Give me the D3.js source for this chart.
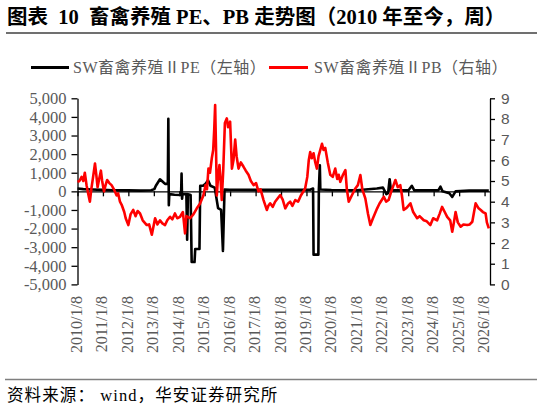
<!DOCTYPE html>
<html><head><meta charset="utf-8">
<script src="https://cdn.jsdelivr.net/npm/d3@7/dist/d3.min.js"></script>
<style>
body{margin:0;background:#fff;}
svg{display:block;}
text{white-space:pre;}
</style></head>
<body><svg id="c" width="541" height="406"></svg>
<script>
const titleText = "图表  10  畜禽养殖 PE、PB 走势图（2010 年至今，周）";
const sourceText = "资料来源： wind，华安证券研究所";
const seriesNames = ["SW畜禽养殖ⅡPE（左轴）", "SW畜禽养殖ⅡPB（右轴）"];
const leftTicks = [-5000,-4000,-3000,-2000,-1000,0,1000,2000,3000,4000,5000];
const rightTicks = [0,1,2,3,4,5,6,7,8,9];
const xTickLabels = ["2010/1/8","2011/1/8","2012/1/8","2013/1/8","2014/1/8","2015/1/8","2016/1/8","2017/1/8","2018/1/8","2019/1/8","2020/1/8","2021/1/8","2022/1/8","2023/1/8","2024/1/8","2025/1/8","2026/1/8"];

const peSeries = [
["2010-01-08",150],["2010-04-01",120],["2010-08-01",100],["2011-01-01",80],["2011-06-01",60],["2012-01-01",50],["2012-07-01",40],["2012-12-01",60],
["2013-01-15",120],["2013-02-06",300],["2013-04-06",650],["2013-05-20",500],["2013-06-18",400],["2013-07-28",400],["2013-08-04",3900],["2013-08-11",-750],["2013-08-18",-150],
["2013-11-01",-180],["2014-02-03",-200],["2014-02-10",950],["2014-02-17",-400],["2014-02-24",-150],["2014-04-20",-150],["2014-05-01",-2600],["2014-05-12",-150],
["2014-06-20",-200],["2014-07-05",-3800],["2014-08-15",-3800],["2014-08-25",-3100],["2014-10-25",-3100],["2014-11-05",300],["2014-12-15",300],["2015-01-20",400],
["2015-02-25",600],["2015-04-01",300],["2015-06-01",200],["2015-07-19",-900],["2015-09-01",-1000],["2015-09-27",-3200],["2015-10-20",100],["2016-01-01",90],
["2017-01-01",80],["2018-01-01",80],["2019-03-01",90],["2019-04-13",150],["2019-04-20",-3400],["2019-06-28",-3400],["2019-07-05",100],["2019-07-19",1400],["2019-07-26",100],
["2020-01-01",70],["2021-01-01",60],["2021-10-15",150],["2022-01-10",200],["2022-02-28",-150],["2022-03-25",-100],["2022-04-16",650],["2022-05-05",50],
["2023-01-10",50],["2023-03-01",300],["2023-04-05",50],["2024-03-15",50],["2024-04-15",250],["2024-05-15",0],["2024-08-20",-100],["2024-10-01",-300],["2024-11-18",0],
["2025-06-01",40],["2026-03-10",40]
];

const pbSeries = [
["2010-01-08",4.96],["2010-02-05",5.0],["2010-03-08",5.2],["2010-04-01",5.0],["2010-04-23",5.4],["2010-05-18",4.8],["2010-06-10",4.4],["2010-07-05",4.0],
["2010-07-25",4.6],["2010-08-20",5.2],["2010-09-16",5.85],["2010-10-05",5.3],["2010-10-23",4.7],["2010-11-15",5.1],["2010-12-10",5.5],["2010-12-28",5.0],
["2011-01-23",4.5],["2011-02-15",4.8],["2011-03-10",5.05],["2011-04-10",4.9],["2011-05-12",4.8],["2011-06-15",4.6],["2011-07-24",4.3],["2011-08-15",4.4],
["2011-09-10",4.0],["2011-10-04",3.85],["2011-11-10",3.5],["2011-12-01",3.2],["2012-01-08",2.87],["2012-02-10",3.4],["2012-03-18",3.6],["2012-04-20",3.3],
["2012-05-20",3.55],["2012-06-24",3.43],["2012-08-01",3.1],["2012-09-28",2.87],["2012-11-01",2.9],["2012-12-10",2.4],["2013-01-26",3.2],["2013-03-01",2.9],
["2013-04-06",3.1],["2013-05-10",2.95],["2013-06-18",2.87],["2013-07-20",3.1],["2013-08-29",3.27],["2013-10-01",3.15],["2013-11-07",3.43],["2013-12-10",3.2],
["2014-01-19",3.27],["2014-03-01",3.5],["2014-04-01",2.47],["2014-04-20",3.3],["2014-06-13",3.2],["2014-08-01",3.4],["2014-09-17",3.68],["2014-11-01",3.9],
["2014-12-20",4.3],["2015-01-20",4.8],["2015-02-10",4.6],["2015-03-03",5.6],["2015-03-25",5.4],["2015-04-20",6.1],["2015-05-10",6.5],["2015-05-25",7.5],
["2015-06-07",8.67],["2015-06-20",6.5],["2015-07-01",4.3],["2015-07-15",5.0],["2015-08-08",5.77],["2015-08-25",5.0],["2015-09-10",4.08],["2015-10-01",5.5],
["2015-10-25",7.8],["2015-11-22",8.03],["2015-12-10",7.6],["2016-01-08",7.87],["2016-02-03",5.6],["2016-02-25",6.0],["2016-03-21",7.0],["2016-04-10",6.2],
["2016-05-08",5.6],["2016-06-10",5.9],["2016-07-17",5.7],["2016-08-20",5.5],["2016-09-28",5.3],["2016-11-01",5.0],["2016-12-10",4.8],["2017-01-15",4.9],
["2017-02-18",4.5],["2017-03-20",4.6],["2017-05-02",4.08],["2017-06-18",3.6],["2017-07-10",3.8],["2017-08-05",3.92],["2017-09-10",3.75],["2017-10-15",4.0],
["2017-12-28",4.32],["2018-02-01",4.1],["2018-03-10",3.68],["2018-04-15",3.9],["2018-05-19",4.0],["2018-06-20",3.8],["2018-07-31",4.08],["2018-09-10",4.0],
["2018-10-20",4.3],["2018-12-20",4.64],["2019-01-20",5.2],["2019-02-10",6.0],["2019-03-03",6.4],["2019-03-25",6.1],["2019-04-20",6.34],["2019-05-15",5.9],
["2019-06-07",5.6],["2019-07-01",6.2],["2019-08-19",6.8],["2019-09-10",6.5],["2019-10-05",6.6],["2019-11-10",5.9],["2019-12-16",5.3],["2020-01-20",5.2],
["2020-02-25",5.6],["2020-03-25",5.1],["2020-04-15",5.3],["2020-05-08",4.96],["2020-06-15",5.3],["2020-07-20",5.53],["2020-08-10",4.6],["2020-09-06",4.0],
["2020-10-20",4.3],["2020-12-10",4.64],["2021-01-15",4.8],["2021-02-20",5.29],["2021-03-20",4.6],["2021-05-02",4.16],["2021-06-10",3.4],["2021-07-13",2.87],
["2021-08-20",3.2],["2021-10-19",3.68],["2021-11-20",3.9],["2022-01-23",4.24],["2022-02-25",4.0],["2022-04-01",4.08],["2022-05-10",4.5],["2022-07-08",5.05],
["2022-08-10",4.7],["2022-09-16",4.8],["2022-10-10",4.3],["2022-11-03",3.6],["2022-12-15",3.7],["2023-02-09",3.92],["2023-03-20",3.5],["2023-05-16",3.2],
["2023-06-20",3.3],["2023-08-19",3.1],["2023-10-01",3.05],["2023-11-22",2.87],["2024-01-01",3.2],["2024-02-27",3.1],["2024-04-01",3.4],["2024-05-08",3.75],
["2024-06-15",3.5],["2024-07-20",3.27],["2024-09-01",3.1],["2024-10-01",2.55],["2024-10-25",3.0],["2024-11-18",3.5],["2024-12-20",3.0],["2025-01-30",2.79],
["2025-03-10",2.9],["2025-05-05",2.87],["2025-06-10",2.9],["2025-07-16",3.03],["2025-08-10",3.5],["2025-09-02",3.92],["2025-10-10",3.7],["2025-11-14",3.6],
["2025-12-15",3.5],["2026-01-23",3.43],["2026-02-10",3.0],["2026-03-10",2.71]
];

const parse = d3.timeParse("%Y-%m-%d");
const pe = peSeries.map(d => ({date: parse(d[0]), v: d[1]}));
const pb = pbSeries.map(d => ({date: parse(d[0]), v: d[1]}));
const tickDates = xTickLabels.map(s => d3.timeParse("%Y/%m/%d")(s));

const svg = d3.select("#c");
const serif = "'Liberation Serif','Times New Roman','Noto Sans CJK SC',serif";
const grey = "#595959";

const plotL = 77.5, plotR = 490, plotT = 98.3, plotB = 284.4;
const x = d3.scaleTime().domain([parse("2010-01-08"), parse("2026-03-27")]).range([plotL, plotR]);
const yL = d3.scaleLinear().domain([-5000, 5000]).range([plotB, plotT]);
const yR = d3.scaleLinear().domain([0, 9]).range([plotB, plotT]);

// title
svg.append("text").attr("x", 7).attr("y", 24).attr("font-family", serif)
  .attr("font-weight", "bold").attr("font-size", 20.5).attr("fill", "#000").text(titleText);
svg.append("line").attr("x1", 6).attr("x2", 537).attr("y1", 33).attr("y2", 33)
  .attr("stroke", "#404040").attr("stroke-width", 1.3);

// legend
const lg = svg.append("g").attr("font-family", serif).attr("font-size", 16).attr("fill", grey).attr("letter-spacing", 0.5);
lg.append("line").attr("x1", 31).attr("x2", 69).attr("y1", 67.5).attr("y2", 67.5).attr("stroke", "#000").attr("stroke-width", 3);
lg.append("text").attr("x", 73).attr("y", 73).text(seriesNames[0]);
lg.append("line").attr("x1", 269).attr("x2", 308).attr("y1", 67.5).attr("y2", 67.5).attr("stroke", "#ff0000").attr("stroke-width", 3);
lg.append("text").attr("x", 314).attr("y", 73).text(seriesNames[1]);

// left axis
const fmt = d => d3.format(",")(d).replace("−", "-");
const gl = svg.append("g").attr("transform", `translate(${plotL},0)`)
  .call(d3.axisLeft(yL).tickValues(leftTicks).tickFormat(fmt).tickSize(6).tickPadding(5).tickSizeOuter(0));
gl.selectAll("path,line").attr("stroke", "#000").attr("stroke-width", 1.3);
gl.selectAll("text").attr("font-family", serif).attr("font-size", 16.5).attr("fill", grey);

// right axis
const gr = svg.append("g").attr("transform", `translate(${plotR},0)`)
  .call(d3.axisRight(yR).tickValues(rightTicks).tickSize(5).tickPadding(6).tickSizeOuter(0));
gr.selectAll("path,line").attr("stroke", "#000").attr("stroke-width", 1.3);
gr.selectAll("text").attr("font-family", "'Liberation Sans',Arial,sans-serif").attr("font-size", 15.5).attr("fill", grey);

// x axis at zero
const gx = svg.append("g").attr("transform", `translate(0,${yL(0)})`)
  .call(d3.axisBottom(x).tickValues(tickDates).tickSize(5).tickFormat("").tickSizeOuter(0));
gx.selectAll("path,line").attr("stroke", "#000").attr("stroke-width", 1.3);

// x labels at bottom
const gxl = svg.append("g").attr("transform", `translate(0,296)`)
  .call(d3.axisBottom(x).tickValues(tickDates).tickSize(0).tickPadding(0).tickFormat((d,i) => xTickLabels[i]));
gxl.select(".domain").remove();
gxl.selectAll("text").attr("font-family", serif).attr("font-size", 16).attr("fill", grey)
  .attr("text-anchor", "end").attr("transform", "rotate(-90)").attr("x", 0).attr("y", 0).attr("dy", "0.25em");

// lines
svg.append("path").datum(pe).attr("fill", "none").attr("stroke", "#000").attr("stroke-width", 2.6)
  .attr("stroke-linejoin", "round")
  .attr("d", d3.line().x(d => x(d.date)).y(d => yL(d.v)));
svg.append("path").datum(pb).attr("fill", "none").attr("stroke", "#ff0000").attr("stroke-width", 2.6)
  .attr("stroke-linejoin", "round")
  .attr("d", d3.line().x(d => x(d.date)).y(d => yR(d.v)));

// footer
svg.append("line").attr("x1", 5).attr("x2", 537).attr("y1", 379.5).attr("y2", 379.5)
  .attr("stroke", "#7f7f7f").attr("stroke-width", 1.5);
svg.append("text").attr("x", 7).attr("y", 401).attr("font-family", serif).attr("font-size", 16.5)
  .attr("letter-spacing", 1.1).attr("fill", "#000").text(sourceText);
</script></body></html>
